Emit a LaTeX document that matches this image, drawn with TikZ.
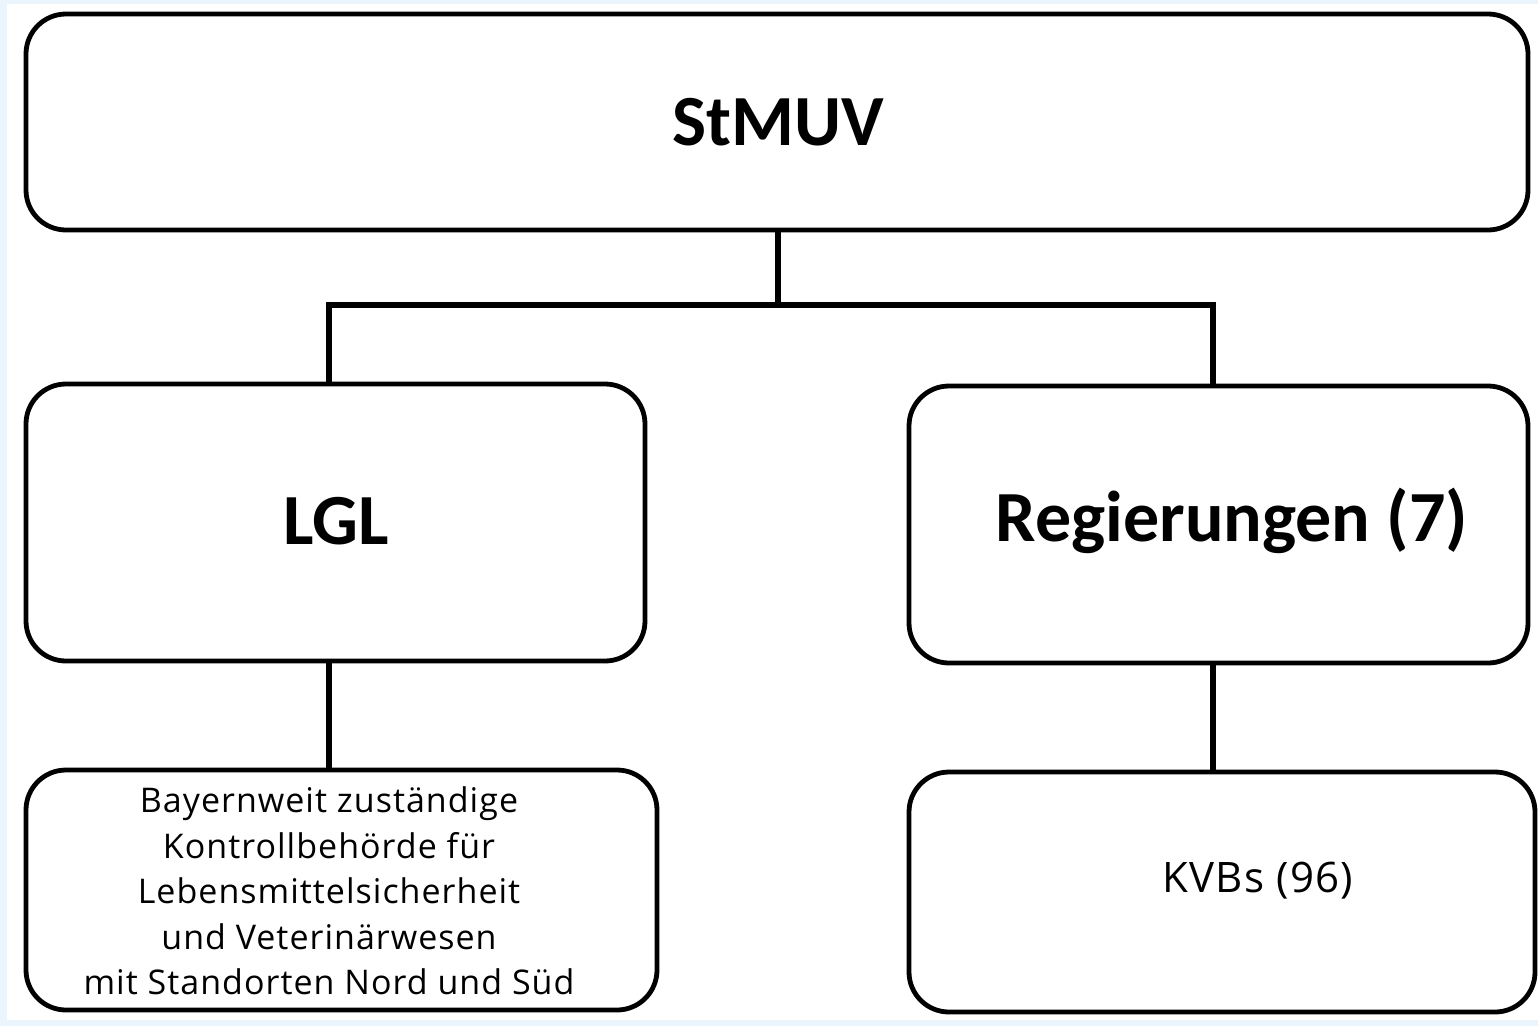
\documentclass[tikz,border=0pt]{standalone}
\usepackage{fontspec}
\setmainfont{Carlito}
\newfontfamily\smallfont[LetterSpace=3]{Open Sans}
\definecolor{bgblue}{HTML}{EBF5FD}
\tikzset{
  box/.style={draw=black, line width=4.8pt, rounded corners=40pt, fill=white, inner sep=0pt},
  conn/.style={draw=black, line width=5.5pt},
  big/.style={font=\bfseries\fontsize{72}{80}\selectfont, inner sep=0pt},
  small/.style={font=\smallfont\fontsize{34}{45.5}\selectfont, align=center, inner sep=0pt},
  mid/.style={font=\smallfont\fontsize{42}{48}\selectfont, inner sep=0pt},
}
\begin{document}
\begin{tikzpicture}[x=1pt,y=-1pt]
\useasboundingbox (0,0) rectangle (1538,1026);
\fill[bgblue] (0,0) rectangle (1538,1026);
\fill[white] (7,4) rectangle (1538,1020);
% boxes
\node[box, minimum width=1502pt, minimum height=216pt] (stmuv) at (777,122) {};
\node[box, minimum width=619pt, minimum height=277pt] (lgl) at (335.5,522.5) {};
\node[box, minimum width=619pt, minimum height=277pt] (reg) at (1218.5,524.5) {};
\node[box, minimum width=631pt, minimum height=240pt] (lglsub) at (341.5,890) {};
\node[box, minimum width=626pt, minimum height=240pt] (regsub) at (1222,892) {};
% texts
\node[big] (t1) at (778,122) {StMUV};
\node[big] (t2) at (336,521) {LGL};
\node[big] (t3) at (1232,521) {Regierungen (7)};
\node[small] (t4) at (329,891) {Bayernweit zuständige\\Kontrollbehörde für\\Lebensmittelsicherheit\\und Veterinärwesen\\mit Standorten Nord und Süd};
\node[mid] (t5) at (1258,881) {KVBs (96)};
% connectors
\coordinate (j) at (778,305);
\draw[conn] ([xshift=1pt]stmuv.south) -- (j);
\draw[conn, line join=miter] ([xshift=-6.5pt]lgl.north) |- (j) -| ([xshift=-5.5pt]reg.north);
\draw[conn] ([xshift=-6.5pt]lgl.south) -- ([xshift=-12.5pt]lglsub.north);
\draw[conn] ([xshift=-5.5pt]reg.south) -- ([xshift=-9pt]regsub.north);
\end{tikzpicture}
\end{document}
